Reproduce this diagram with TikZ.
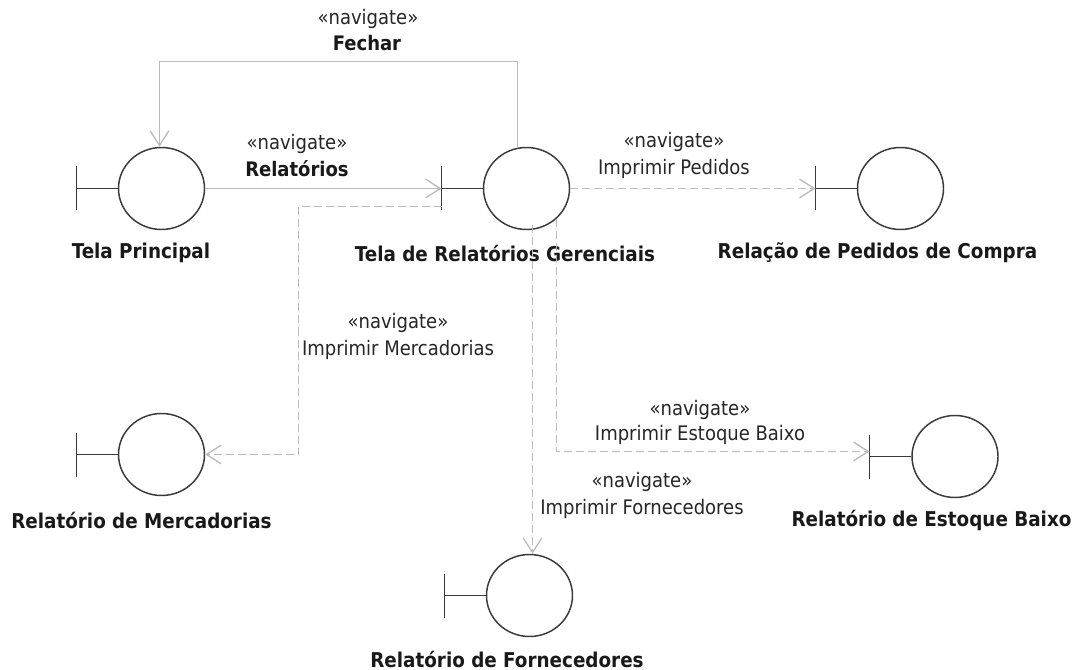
\documentclass[tikz,border=0pt]{standalone}
\usepackage{fontspec}
\setmainfont{DejaVu Sans Condensed}
\usetikzlibrary{shapes.geometric,arrows.meta}
\definecolor{conn}{HTML}{BBBBBB}
\definecolor{ink}{HTML}{3A3A3A}
\tikzset{
  x=0.75pt,y=-0.75pt,
  ent/.style={ellipse,draw=ink,line width=1.1pt,fill=white,minimum width=64.5pt,minimum height=61.5pt,inner sep=0pt},
  barline/.style={draw=ink,line width=1pt},
  flow/.style={draw=conn,line width=1pt,-{Straight Barb[length=11pt,width=14pt,line width=1pt]}},
  dep/.style={flow,dash pattern=on 6pt off 3pt},
  entname/.style={font=\fontsize{15.3}{17}\selectfont\bfseries,text=black!90,inner sep=0pt,anchor=center},
  lab/.style={font=\fontsize{15}{17}\selectfont,text=black!85,inner sep=0pt,anchor=center},
  labb/.style={font=\fontsize{15}{17}\selectfont\bfseries,text=black!90,inner sep=0pt,anchor=center}
}
\begin{document}
\begin{tikzpicture}
\useasboundingbox (0,0) rectangle (1078,670);
% entities
\node[ent] (a) at (161.5,188.5) {};
\node[ent] (b) at (526.5,188.5) {};
\node[ent] (c) at (900.5,188.5) {};
\node[ent] (d) at (161.5,454.5) {};
\node[ent] (e) at (955,456.5) {};
\node[ent] (f) at (529.5,595.5) {};
\coordinate (abar) at (76.5,188.5);
\coordinate (bbar) at (441.5,188.5);
\coordinate (cbar) at (815.5,188.5);
\coordinate (dbar) at (76.5,454.5);
\coordinate (ebar) at (869.5,456.5);
\coordinate (fbar) at (444.5,595.5);
\foreach \n in {a,b,c,d,e,f}{
  \draw[barline] (\n.west) -- (\n bar);
  \draw[barline] (\n bar) ++(0,-22) -- ++(0,44);
}
% names
\node[entname] (na) at (141,253) {Tela Principal};
\node[entname] (nb) at (505,253) {Tela de Relatórios Gerenciais};
\node[entname] (nc) at (877.5,253) {Relação de Pedidos de Compra};
\node[entname] (nd) at (141.5,520) {Relatório de Mercadorias};
\node[entname] (ne) at (931.5,520) {Relatório de Estoque Baixo};
\node[entname] (nf) at (507,659) {Relatório de Fornecedores};
% connectors
\coordinate (j1) at (517.5,61.5);
\coordinate (j2) at (159.5,61.5);
\draw[flow] (j1 |- b.north) ++(0,1) -- (j1) -- (j2) -- (j2 |- a.north);
\draw[flow] (a.east) -- (bbar);
\coordinate (m0) at (441.5,206.5);
\coordinate (m1) at (298.5,206.5);
\draw[dep] (m0) -- (m1) -- (m1 |- d.east) -- (d.east);
\draw[dep] (b.east) -- (cbar);
\coordinate (f0) at (532.5,225);
\draw[dep] (f0) -- (f0 |- f.north);
\coordinate (e0) at (556.5,219);
\coordinate (e1) at (556.5,451.5);
\coordinate (e2) at (869.5,451.5);
\draw[dep] (e0) -- (e1) -- (e2);
% labels
\node[lab] (l1) at (368,19) {«navigate»};
\node[labb] (l2) at (367,43) {Fechar};
\node[lab] (l3) at (297,144) {«navigate»};
\node[labb] (l4) at (297,169) {Relatórios};
\node[lab] (l5) at (674,142) {«navigate»};
\node[lab] (l6) at (674,169) {Imprimir Pedidos};
\node[lab] (l7) at (398,323) {«navigate»};
\node[lab] (l8) at (398,350) {Imprimir Mercadorias};
\node[lab] (l9) at (700,410) {«navigate»};
\node[lab] (l10) at (700,435) {Imprimir Estoque Baixo};
\node[lab] (l11) at (642,482) {«navigate»};
\node[lab] (l12) at (642,509) {Imprimir Fornecedores};
\end{tikzpicture}
\end{document}
